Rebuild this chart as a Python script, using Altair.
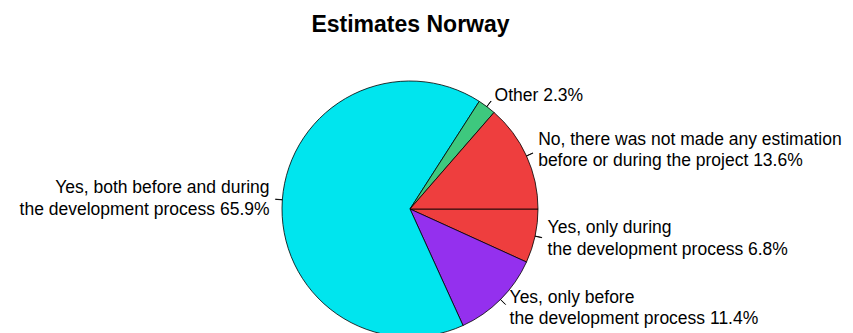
import altair as alt
import pandas as pd

# Slices listed clockwise starting at 3 o'clock
labels = [
    "Yes, only during\n\u00a0the development process 6.8%",
    "Yes, only before\n\u00a0the development process 11.4%",
    "Yes, both before and during\nthe development process 65.9%",
    "Other 2.3%",
    "No, there was not made any estimation\n\u00a0before or during the project 13.6%",
]
categories = ["Yes, only during", "Yes, only before", "Yes, both", "Other", "No"]
values = [6.8, 11.4, 65.9, 2.3, 13.6]
colors = ["#EE3E3E", "#9430EE", "#00E5EE", "#3EC87E", "#EE3E3E"]
order = [1, 2, 3, 4, 5]

df = pd.DataFrame({"cat": categories, "label": labels, "value": values,
                   "color": colors, "ord": order})

CX, CY = 410, 169
R = 128
FS = 17.5
LH = 21.5

base = alt.Chart(df).transform_joinaggregate(
    total="sum(value)"
).transform_window(
    cum="sum(value)", sort=[alt.SortField("ord")], frame=[None, 0]
).transform_calculate(
    a0="PI/2 + 2*PI*(datum.cum - datum.value)/datum.total",
    a1="PI/2 + 2*PI*datum.cum/datum.total",
    mid="PI/2 + 2*PI*(datum.cum - datum.value/2)/datum.total",
    nl="length(split(datum.label, '\\n'))",
).transform_calculate(
    m0="datum.mid - 0.0008",
    m1="datum.mid + 0.0008",
    side="sin(datum.mid) > 0 ? 'right' : 'left'",
)

pie = base.mark_arc(stroke="#000000", strokeWidth=0.8).encode(
    theta=alt.Theta("a0:Q", scale=None),
    theta2="a1:Q",
    radius=alt.value(R),
    color=alt.Color("color:N", scale=None),
    x=alt.value(CX), y=alt.value(CY),
)

ticks = base.mark_arc(stroke="#000000", strokeWidth=0.8, fill="#000000").encode(
    theta=alt.Theta("m0:Q", scale=None),
    theta2="m1:Q",
    radius=alt.value(R + 7),
    radius2=alt.value(R),
    x=alt.value(CX), y=alt.value(CY),
)


def label_layer(side, nl):
    return base.transform_filter(
        f"datum.side == '{side}' && datum.nl == {nl}"
    ).mark_text(
        align="left" if side == "right" else "right",
        font="Liberation Sans", fontSize=FS, lineHeight=LH,
        baseline="middle", lineBreak="\n", color="#000000",
        dy=-(nl - 1) * LH / 2,
    ).encode(
        theta=alt.Theta("mid:Q", scale=None),
        radius=alt.value(R * 1.1),
        text="label:N",
        x=alt.value(CX), y=alt.value(CY),
    )


texts = [label_layer(s, n) for s in ("right", "left") for n in (1, 2)]

chart = alt.layer(pie, ticks, *texts).properties(
    width=853, height=293,
    title=alt.TitleParams("Estimates Norway", font="Liberation Sans", fontSize=23,
                          fontWeight="bold", anchor="middle", offset=3, dx=-16,
                          color="#000000"),
    autosize=alt.AutoSizeParams(type="none"),
    padding={"top": 40, "left": 0, "right": 0, "bottom": 0},
).configure_view(stroke=None)

chart.save("out.html", embed_options={"renderer": "svg", "actions": False})
